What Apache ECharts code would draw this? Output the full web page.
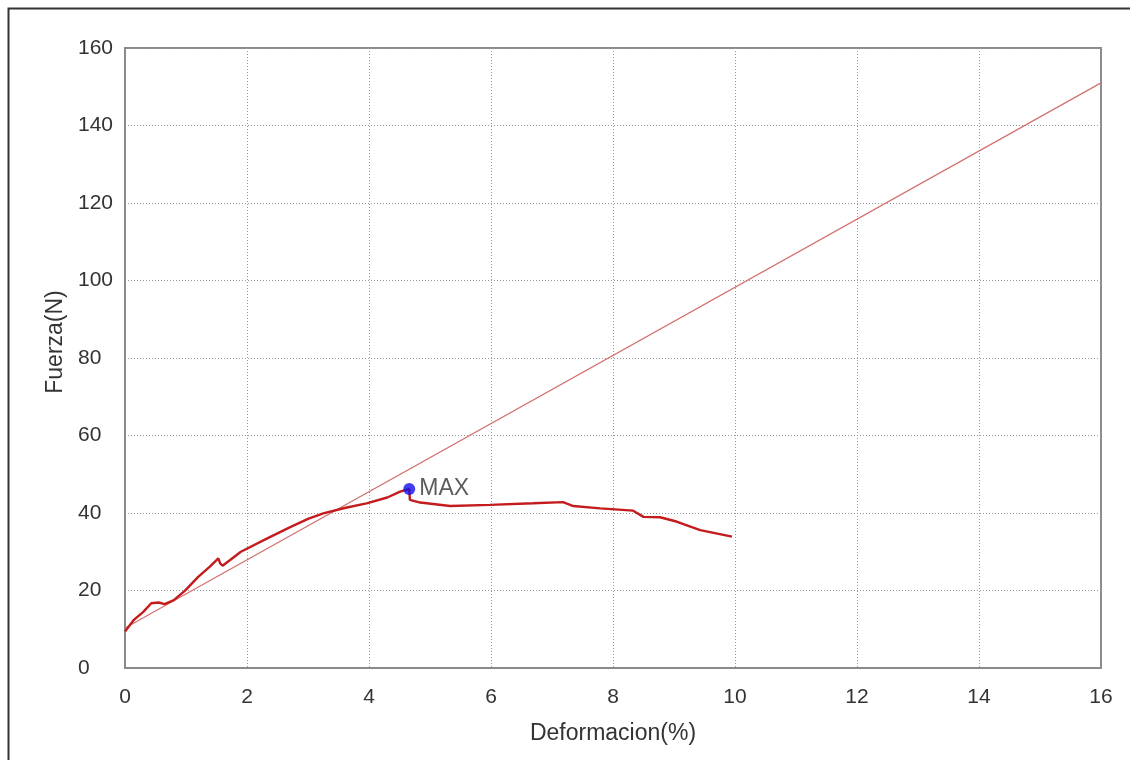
<!DOCTYPE html>
<html>
<head>
<meta charset="utf-8">
<script src="https://cdn.jsdelivr.net/npm/echarts@6/dist/echarts.min.js"></script>
<style>
  html, body { margin: 0; padding: 0; background: #fff; }
  #chart { width: 1130px; height: 760px; }
</style>
</head>
<body>
<div id="chart"></div>
<script>
// Ensayo de tracción: fuerza frente a deformación
const deformacion = [0, 0.15, 0.3, 0.43, 0.55, 0.65, 0.8, 0.98, 1.2, 1.4, 1.53, 1.56, 1.6, 1.9, 2.3, 2.7, 3.0, 3.25, 3.6, 3.96, 4.3, 4.51, 4.66, 4.67, 4.84, 5.33, 5.98, 6.69, 7.18, 7.35, 7.79, 8.33, 8.5, 8.77, 9.04, 9.43, 9.95];
const fuerza = [9.4, 12.5, 14.5, 16.7, 16.9, 16.5, 17.5, 19.9, 23.5, 26.3, 28.3, 27.0, 26.4, 30.0, 33.2, 36.3, 38.5, 39.9, 41.3, 42.5, 44.0, 45.5, 46.2, 43.4, 42.7, 41.8, 42.1, 42.5, 42.8, 41.8, 41.2, 40.6, 39.0, 38.9, 37.8, 35.6, 33.9];

// Recta de referencia
const rectaX = [0, 16];
const rectaY = [10.3, 151];

// Punto de fuerza máxima
const maxPunto = [4.66, 46.2];

const xTicks = [0, 2, 4, 6, 8, 10, 12, 14, 16];
const yTicks = [0, 20, 40, 60, 80, 100, 120, 140, 160];

const font = '"Liberation Sans", Arial, sans-serif';

const chart = echarts.init(document.getElementById('chart'), null, { renderer: 'canvas' });

chart.setOption({
  backgroundColor: '#ffffff',
  animation: false,
  graphic: [{
    type: 'rect',
    shape: { x: 8.5, y: 8.5, width: 1200, height: 800 },
    style: { fill: 'none', stroke: '#333333', lineWidth: 2 },
    silent: true
  }],
  grid: {
    left: 125, top: 48, right: 29, bottom: 92,
    show: true, borderColor: '#8a8a8a', borderWidth: 2
  },
  xAxis: {
    type: 'value',
    min: xTicks[0], max: xTicks[xTicks.length - 1], interval: 2,
    name: 'Deformacion(%)',
    nameLocation: 'middle', nameGap: 54,
    nameTextStyle: { fontFamily: font, fontSize: 23, color: '#333' },
    axisLine: { show: true, lineStyle: { color: '#8a8a8a', width: 2 } },
    axisTick: { show: false },
    axisLabel: { fontFamily: font, fontSize: 21, color: '#333', margin: 19 },
    splitLine: { show: true, lineStyle: { color: '#999', type: [1, 2], width: 1 } }
  },
  yAxis: {
    type: 'value',
    min: yTicks[0], max: yTicks[yTicks.length - 1], interval: 20,
    name: 'Fuerza(N)',
    nameLocation: 'middle', nameGap: 58, nameRotate: 90,
    nameTextStyle: { fontFamily: font, fontSize: 23, color: '#333', padding: [0, 0, 0, 32] },
    axisLine: { show: true, lineStyle: { color: '#8a8a8a', width: 2 } },
    axisTick: { show: false },
    axisLabel: { fontFamily: font, fontSize: 21, color: '#333', margin: 47, align: 'left' },
    splitLine: { show: true, lineStyle: { color: '#999', type: [1, 2], width: 1 } }
  },
  series: [
    {
      name: 'Recta',
      type: 'line',
      data: rectaX.map((x, i) => [x, rectaY[i]]),
      symbol: 'none',
      lineStyle: { color: '#d47070', width: 1.2 },
      z: 2
    },
    {
      name: 'Curva',
      type: 'line',
      data: deformacion.map((x, i) => [x, fuerza[i]]),
      symbol: 'none',
      lineStyle: { color: '#c41c1c', width: 2.4 },
      z: 3
    },
    {
      name: 'MAX',
      type: 'scatter',
      data: [maxPunto],
      symbol: 'circle',
      symbolSize: 12,
      itemStyle: { color: '#1010ee' },
      label: {
        show: true, position: 'right', distance: 4,
        formatter: 'MAX', fontFamily: font, fontSize: 23, color: '#333'
      },
      z: 4
    }
  ]
});
</script>
</body>
</html>
